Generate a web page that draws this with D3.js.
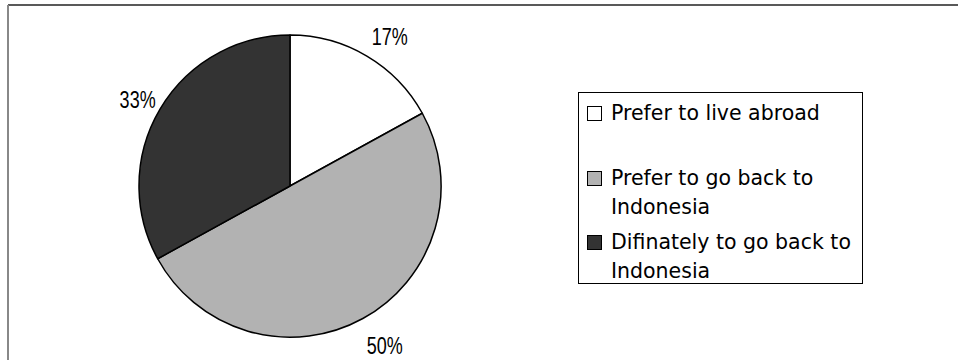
<!DOCTYPE html>
<html>
<head>
<meta charset="utf-8">
<script src="https://cdn.jsdelivr.net/npm/d3@7"></script>
<style>
  html, body { margin: 0; padding: 0; background: #fff; }
  svg { display: block; }
</style>
</head>
<body>
<svg id="chart" width="958" height="360"></svg>
<script>
// ---- data ----
const categories = ["Prefer to live abroad", "Prefer to go back to Indonesia", "Difinately to go back to Indonesia"];
const legendLines = [["Prefer to live abroad"], ["Prefer to go back to", "Indonesia"], ["Difinately to go back to", "Indonesia"]];
const values = [17, 50, 33];
const percentLabels = ["17%", "50%", "33%"];
const colors = ["#ffffff", "#b2b2b2", "#333333"];

const svg = d3.select("#chart");
const W = 958, H = 360;

// frame
svg.append("line").attr("x1", 8).attr("x2", W).attr("y1", 5).attr("y2", 5)
  .attr("stroke", "#222").attr("stroke-width", 1.5);
svg.append("line").attr("x1", 8).attr("x2", 8).attr("y1", 5).attr("y2", H)
  .attr("stroke", "#888").attr("stroke-width", 2);

// pie
const cx = 290, cy = 186, r = 151;
const pie = d3.pie().sort(null).value(d => d)(values);
const arc = d3.arc().innerRadius(0).outerRadius(r);
const g = svg.append("g").attr("transform", `translate(${cx},${cy})`);
g.selectAll("path").data(pie).join("path")
  .attr("d", arc)
  .attr("fill", (d, i) => colors[i])
  .attr("stroke", "#000").attr("stroke-width", 1.5).attr("stroke-linejoin", "round");

// labels (outside, elliptical placement around a slightly offset origin)
const Rx = 184, Ry = 178;
const lab = svg.append("g").attr("transform", `translate(${cx + 6},${cy + 4})`);
lab.selectAll("text.pct").data(pie).join("text")
  .attr("class", "pct")
  .attr("x", d => Rx * Math.sin((d.startAngle + d.endAngle) / 2))
  .attr("y", d => -Ry * Math.cos((d.startAngle + d.endAngle) / 2))
  .attr("dy", "0.36em")
  .attr("text-anchor", "middle")
  .attr("font-family", "'Liberation Sans Narrow', 'Arial Narrow', 'Liberation Sans', Arial, sans-serif")
  .attr("font-size", 23)
  .attr("textLength", 36)
  .attr("lengthAdjust", "spacingAndGlyphs")
  .attr("fill", "#000")
  .text((d, i) => percentLabels[i]);

// legend
const lx = 578, ly = 92, lw = 284, lh = 191;
const lg = svg.append("g");
lg.append("rect").attr("x", lx + 0.5).attr("y", ly + 0.5).attr("width", lw).attr("height", lh)
  .attr("fill", "#fff").attr("stroke", "#000").attr("stroke-width", 1);
const entryBaselines = [120, 185, 249];
const lineH = 28.5;
const items = lg.selectAll("g.item").data(categories).join("g").attr("class", "item");
items.append("rect")
  .attr("x", 587.5).attr("y", (d, i) => entryBaselines[i] - 13.5)
  .attr("width", 14).attr("height", 14)
  .attr("fill", (d, i) => colors[i]).attr("stroke", "#000").attr("stroke-width", 1);
items.each(function(d, i) {
  const t = d3.select(this).append("text")
    .attr("x", 611).attr("y", entryBaselines[i])
    .attr("font-family", "'DejaVu Sans', 'Noto Sans', sans-serif")
    .attr("font-size", 20.5).attr("fill", "#000");
  legendLines[i].forEach((ln, j) => {
    t.append("tspan").attr("x", 611).attr("y", entryBaselines[i] + j * lineH).text(ln);
  });
});
</script>
</body>
</html>
